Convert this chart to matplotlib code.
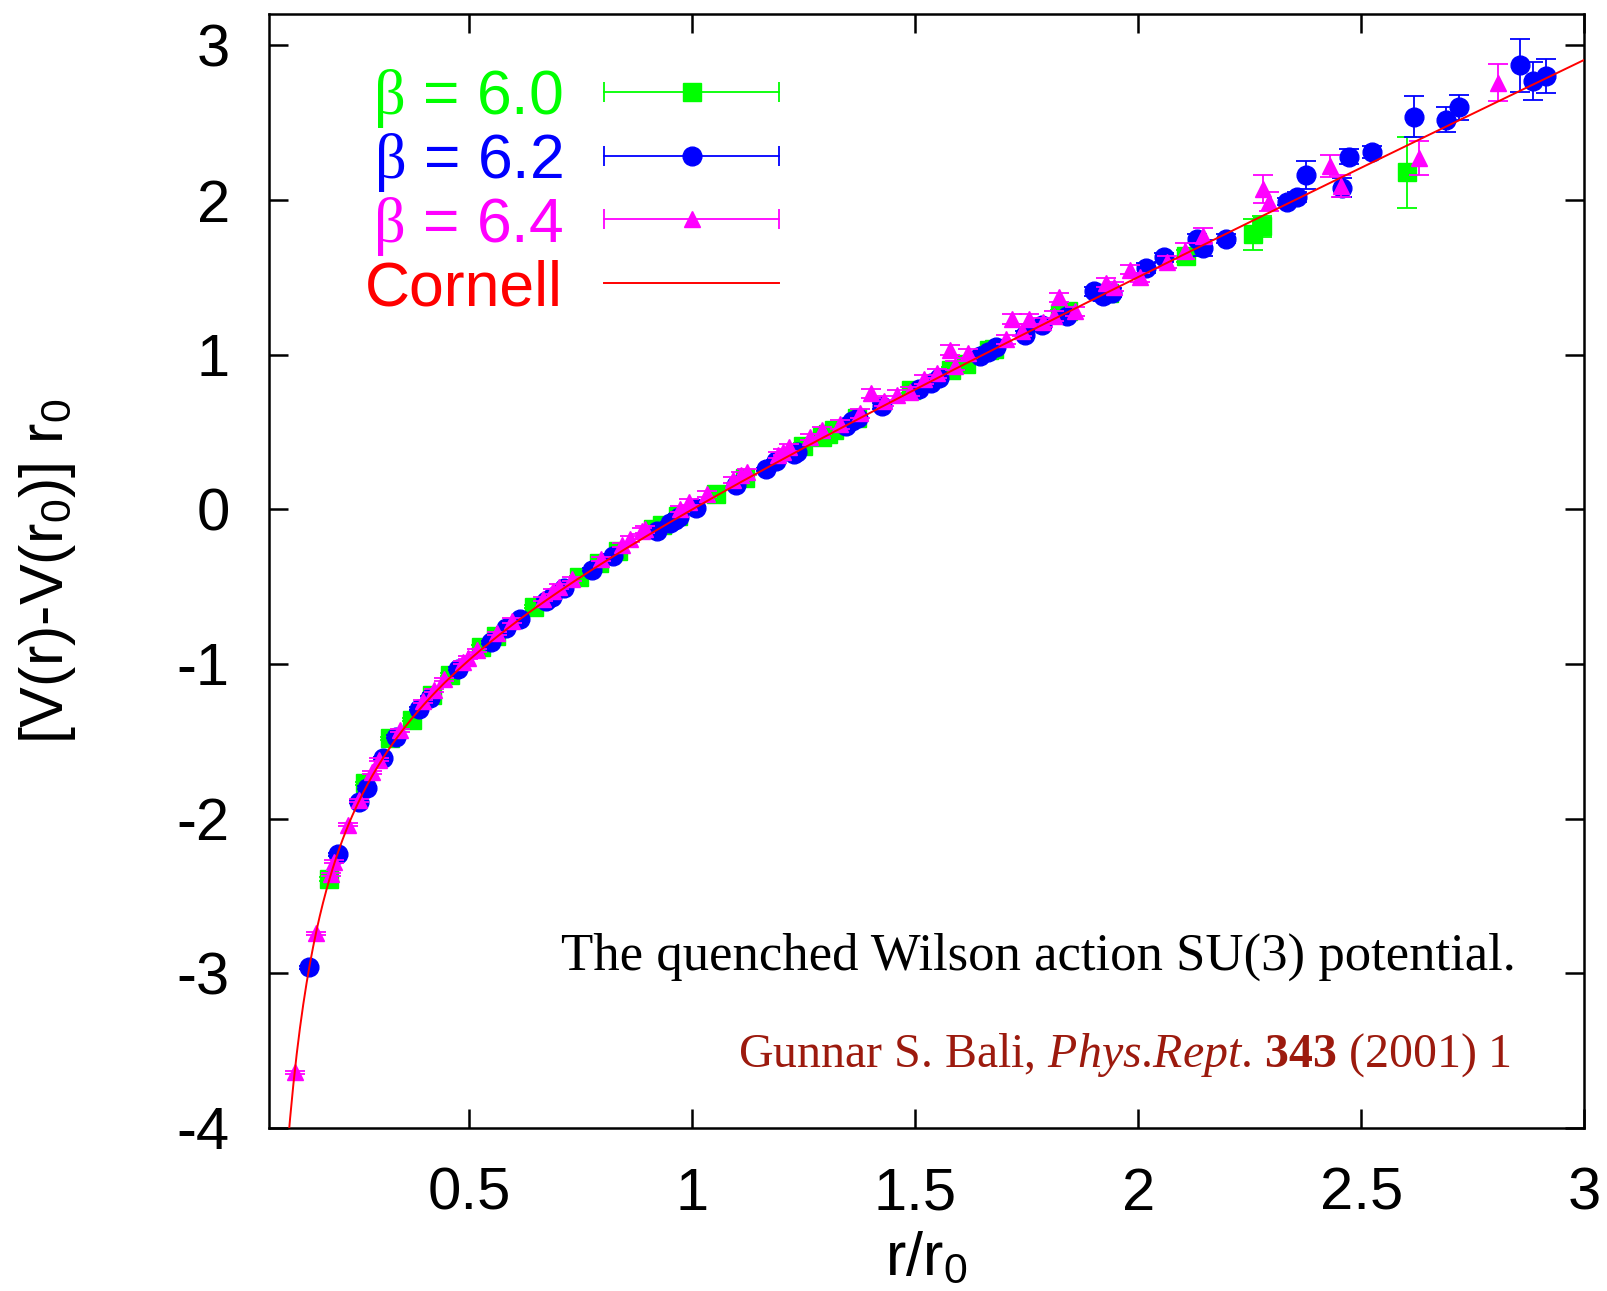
import numpy as np
import matplotlib
matplotlib.use("Agg")
import matplotlib.pyplot as plt
from matplotlib.ticker import FormatStrFormatter

# =========================================================
# DATA
# =========================================================
# beta = 6.0  (green squares)
x_b60 = [0.186, 0.265, 0.323, 0.372, 0.416, 0.456, 0.527, 0.559, 0.645, 0.745,
         0.790, 0.833, 0.912, 0.931, 0.968, 1.053, 1.117, 1.249, 1.290, 1.304,
         1.317, 1.368, 1.490, 1.580, 1.613, 1.666, 1.676, 1.824, 1.843, 1.935,
         2.107, 2.257, 2.278, 2.603]
y_b60 = [-2.39, -1.77, -1.48, -1.36, -1.20, -1.07, -0.89, -0.82, -0.63, -0.44,
         -0.35, -0.27, -0.13, -0.10, -0.04, 0.10, 0.20, 0.41, 0.47, 0.49,
         0.51, 0.59, 0.77, 0.90, 0.94, 1.03, 1.04, 1.26, 1.28, 1.40,
         1.64, 1.78, 1.83, 2.18]
e_b60 = [0.01, 0.01, 0.01, 0.01, 0.01, 0.01, 0.01, 0.01, 0.01, 0.01,
         0.01, 0.01, 0.01, 0.01, 0.01, 0.01, 0.01, 0.02, 0.02, 0.02,
         0.02, 0.02, 0.02, 0.02, 0.02, 0.02, 0.02, 0.03, 0.03, 0.03,
         0.04, 0.10, 0.07, 0.23]

# beta = 6.2  (blue circles)
x_b62 = [0.141, 0.205, 0.252, 0.270, 0.307, 0.336, 0.388, 0.412, 0.475, 0.549,
         0.582, 0.613, 0.672, 0.686, 0.713, 0.776, 0.823, 0.920, 0.950, 0.960,
         0.970, 1.008, 1.097, 1.164, 1.188, 1.227, 1.235, 1.344, 1.358, 1.372,
         1.426, 1.509, 1.534, 1.552, 1.646, 1.663, 1.680, 1.746, 1.783, 1.840,
         1.901, 1.920, 1.940, 2.016, 2.058, 2.131, 2.146, 2.197, 2.333, 2.355,
         2.376, 2.456, 2.473, 2.523, 2.617, 2.690, 2.720, 2.856, 2.884, 2.914]
y_b62 = [-2.96, -2.23, -1.89, -1.80, -1.61, -1.47, -1.29, -1.22, -1.03, -0.86,
         -0.77, -0.71, -0.59, -0.57, -0.51, -0.39, -0.30, -0.14, -0.09, -0.07,
         -0.05, 0.01, 0.16, 0.26, 0.31, 0.36, 0.37, 0.54, 0.57, 0.59,
         0.67, 0.78, 0.82, 0.85, 0.99, 1.02, 1.05, 1.13, 1.19, 1.25,
         1.41, 1.38, 1.40, 1.56, 1.63, 1.75, 1.69, 1.75, 1.99, 2.02,
         2.16, 2.08, 2.28, 2.31, 2.54, 2.52, 2.60, 2.87, 2.77, 2.80]
e_b62 = [0.01, 0.01, 0.01, 0.01, 0.01, 0.01, 0.01, 0.01, 0.01, 0.01,
         0.01, 0.01, 0.01, 0.01, 0.01, 0.01, 0.01, 0.01, 0.01, 0.01,
         0.01, 0.01, 0.01, 0.01, 0.01, 0.01, 0.01, 0.01, 0.01, 0.02,
         0.02, 0.02, 0.02, 0.02, 0.02, 0.02, 0.02, 0.02, 0.02, 0.02,
         0.03, 0.03, 0.03, 0.03, 0.03, 0.03, 0.05, 0.03, 0.02, 0.03,
         0.09, 0.06, 0.05, 0.04, 0.13, 0.08, 0.08, 0.17, 0.12, 0.11]

# beta = 6.4  (magenta triangles)
x_b64 = [0.108, 0.155, 0.189, 0.197, 0.228, 0.252, 0.281, 0.298, 0.344, 0.397,
         0.421, 0.444, 0.486, 0.497, 0.516, 0.562, 0.596, 0.666, 0.688, 0.702,
         0.730, 0.794, 0.843, 0.860, 0.888, 0.894, 0.973, 0.993, 1.032, 1.092,
         1.110, 1.123, 1.192, 1.204, 1.216, 1.264, 1.291, 1.332, 1.376, 1.401,
         1.429, 1.459, 1.489, 1.519, 1.548, 1.578, 1.589, 1.619, 1.703, 1.717,
         1.740, 1.754, 1.787, 1.810, 1.821, 1.858, 1.927, 1.946, 1.982, 2.004,
         2.064, 2.105, 2.146, 2.280, 2.292, 2.430, 2.454, 2.630, 2.807]
y_b64 = [-3.64, -2.74, -2.36, -2.28, -2.04, -1.88, -1.70, -1.62, -1.43, -1.24,
         -1.17, -1.10, -0.99, -0.96, -0.91, -0.80, -0.72, -0.58, -0.53, -0.50,
         -0.45, -0.32, -0.23, -0.19, -0.14, -0.13, 0.00, 0.05, 0.10, 0.19,
         0.22, 0.24, 0.35, 0.37, 0.40, 0.47, 0.51, 0.55, 0.62, 0.75,
         0.70, 0.74, 0.76, 0.84, 0.88, 1.03, 0.93, 1.01, 1.10, 1.23,
         1.15, 1.23, 1.21, 1.25, 1.37, 1.28, 1.465, 1.44, 1.55, 1.50,
         1.60, 1.67, 1.77, 2.07, 1.99, 2.22, 2.09, 2.27, 2.76]
e_b64 = [0.01, 0.01, 0.01, 0.01, 0.01, 0.01, 0.01, 0.01, 0.01, 0.01,
         0.01, 0.01, 0.01, 0.01, 0.01, 0.01, 0.015, 0.015, 0.015, 0.015,
         0.015, 0.015, 0.015, 0.02, 0.02, 0.02, 0.02, 0.02, 0.02, 0.02,
         0.02, 0.02, 0.02, 0.02, 0.02, 0.02, 0.02, 0.03, 0.03, 0.03,
         0.03, 0.03, 0.03, 0.03, 0.03, 0.03, 0.03, 0.03, 0.03, 0.03,
         0.03, 0.03, 0.03, 0.03, 0.03, 0.03, 0.03, 0.03, 0.03, 0.03,
         0.04, 0.05, 0.05, 0.09, 0.06, 0.07, 0.07, 0.11, 0.12]

# Cornell fit  [V(r)-V(r0)] r0 = sigma r0^2 (x-1) - e (1/x - 1)
CORNELL_E = 0.295
CORNELL_SIGMA = 1.355

X_TICKS = [0.5, 1, 1.5, 2, 2.5, 3]
Y_TICKS = [-4, -3, -2, -1, 0, 1, 2, 3]

# =========================================================
# STYLE
# =========================================================
plt.rcParams['font.family'] = ['Liberation Sans', 'DejaVu Sans']
plt.rcParams['mathtext.fontset'] = 'custom'
plt.rcParams['mathtext.rm'] = 'Liberation Sans'
plt.rcParams['mathtext.it'] = 'Liberation Serif:italic'
plt.rcParams['mathtext.bf'] = 'Liberation Serif:bold'
plt.rcParams['mathtext.sf'] = 'Liberation Serif'
plt.rcParams['axes.unicode_minus'] = False

GREEN = '#00ff00'
BLUE = '#0000ff'
MAGENTA = '#ff00ff'
RED = '#ff0000'
CITE = '#9c1a0e'

fig = plt.figure(figsize=(16.08, 12.91), dpi=100)
ax = fig.add_axes([0.1671, 0.1263, 0.8182, 0.8625])

series = [
    (x_b60, y_b60, e_b60, GREEN, 's', 13.5, r'$\mathsf{\beta}$ = 6.0'),
    (x_b62, y_b62, e_b62, BLUE, 'o', 13.5, r'$\mathsf{\beta}$ = 6.2'),
    (x_b64, y_b64, e_b64, MAGENTA, '^', 12.0, r'$\mathsf{\beta}$ = 6.4'),
]

for i, (x, y, e, c, m, ms, lab) in enumerate(series):
    ax.errorbar(x, y, yerr=e, fmt=m, color=c, ms=ms, mec=c, mfc=c,
                elinewidth=1.3, capsize=7, capthick=1.3, zorder=3 + i)

xc = np.linspace(0.05, 3.0, 800)
yc = CORNELL_SIGMA * (xc - 1) - CORNELL_E * (1 / xc - 1)
ax.plot(xc, yc, color=RED, lw=1.4, zorder=10)

ax.set_xlim(0.05, 3.0)
ax.set_ylim(-4, 3.2)
ax.set_xticks(X_TICKS)
ax.set_yticks(Y_TICKS)
ax.xaxis.set_major_formatter(FormatStrFormatter('%g'))
ax.yaxis.set_major_formatter(FormatStrFormatter('%g'))
ax.tick_params(direction='in', length=14, width=1.8, top=True, right=True,
               labelsize=43)
ax.tick_params(axis='x', pad=28)
ax.tick_params(axis='y', pad=28)
for sp in ax.spines.values():
    sp.set_linewidth(1.8)

ax.set_xlabel(r'r/r$_0$', fontsize=44)
ax.xaxis.set_label_coords(0.5, -0.092)
ax.set_ylabel(r'[V(r)-V(r$_0$)] r$_0$', fontsize=44)
ax.yaxis.set_label_coords(-0.145, 0.5)

# ---------------------------------------------------------
# legend (gnuplot style key, drawn in axes coordinates)
# ---------------------------------------------------------
rows = [0.9304, 0.8733, 0.8162, 0.7591]
x0, x1, xm, xt = 0.2545, 0.3879, 0.3214, 0.2236
for (x, y, e, c, m, ms, lab), ry in zip(series, rows[:3]):
    ax.plot([x0, x1], [ry, ry], color=c, lw=1.3, transform=ax.transAxes,
            clip_on=False, zorder=12)
    ax.plot([x0, x1], [ry, ry], ls='none', marker='|', ms=15, mew=1.3,
            color=c, transform=ax.transAxes, clip_on=False, zorder=12)
    ax.plot([xm], [ry], ls='none', marker=m, ms=ms, color=c,
            transform=ax.transAxes, clip_on=False, zorder=12)
    ax.text(xt, ry - 0.0202, lab, color=c, fontsize=45, ha='right',
            va='baseline', transform=ax.transAxes)
ax.plot([x0, x1], [rows[3], rows[3]], color=RED, lw=1.4,
        transform=ax.transAxes, clip_on=False, zorder=12)
ax.text(xt, rows[3] - 0.0202, 'Cornell', color=RED, fontsize=45, ha='right',
        va='baseline', transform=ax.transAxes)

# ---------------------------------------------------------
# annotations
# ---------------------------------------------------------
ax.text(0.948, 0.1418, 'The quenched Wilson action SU(3) potential.',
        family='Liberation Serif', fontsize=38, ha='right', va='baseline',
        transform=ax.transAxes)
ax.text(0.9446, 0.0552,
        r'Gunnar S. Bali, $\mathit{Phys}$.$\mathit{Rept}$. $\mathbf{343}$ (2001) 1',
        family='Liberation Serif', fontsize=34.5, color=CITE, ha='right',
        va='baseline', transform=ax.transAxes)

fig.savefig('out.png', dpi=100)
